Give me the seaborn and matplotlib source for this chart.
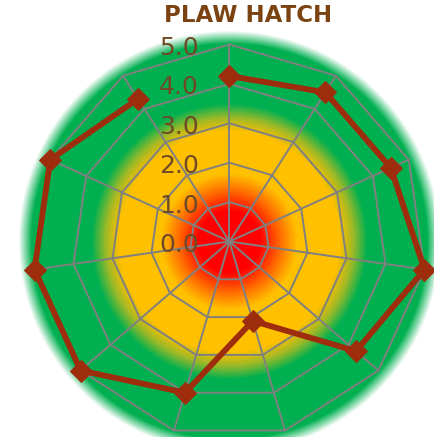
import numpy as np
import pandas as pd
import matplotlib
matplotlib.use("Agg")
import matplotlib.pyplot as plt
import seaborn as sns
from matplotlib.colors import LinearSegmentedColormap

# ---- data ----
categories = ["C1", "C2", "C3", "C4", "C5", "C6", "C7", "C8", "C9", "C10", "C11"]
values = [4.2, 4.5, 4.5, 5.0, 4.25, 2.1, 4.0, 5.0, 5.0, 5.0, 4.3]
levels = [0.0, 1.0, 2.0, 3.0, 4.0, 5.0]
title = "PLAW HATCH"

sns.set_style("white")
plt.rcParams['font.family'] = ['DejaVu Sans']

W, H, DPI = 435, 437, 100
fig = plt.figure(figsize=(W / DPI, H / DPI), dpi=DPI)

cx, cy, R = 229.5, 241.5, 197.0  # pixel geometry (from top-left)
rmax = 5.0

# ---- radial gradient background ----
bg = fig.add_axes([0, 0, 1, 1], zorder=0)
yy, xx = np.mgrid[0:H, 0:W] + 0.5
rr = np.hypot(xx - cx, yy - cy) / R * rmax
S = 5.35
cmap = LinearSegmentedColormap.from_list(
    "grad",
    [(0.0, "#FF0000"), (0.78 / S, "#FF0000"), (1.28 / S, "#FF6A00"),
     (1.72 / S, "#FFC000"), (2.8 / S, "#FFC000"), (3.15 / S, "#9CB928"),
     (3.5 / S, "#00B050"), (1.0, "#00B050")])
rgba = cmap(np.clip(rr / S, 0, 1))
alpha = np.clip((5.35 - rr) / 0.33, 0, 1)
rgba[..., 3] = alpha
bg.imshow(rgba, extent=[0, W, H, 0], interpolation="bilinear", aspect="auto")
bg.set_xlim(0, W)
bg.set_ylim(H, 0)
bg.axis("off")

# ---- polar axes ----
left = (cx - R) / W
bottom = (H - (cy + R)) / H
ax = fig.add_axes([left, bottom, 2 * R / W, 2 * R / H], projection="polar", zorder=1)
ax.patch.set_alpha(0)
ax.set_theta_zero_location("N")
ax.set_theta_direction(-1)
ax.set_ylim(0, rmax)
ax.grid(False)
ax.spines["polar"].set_visible(False)

n = len(categories)
angles = np.linspace(0, 2 * np.pi, n, endpoint=False)
ang_closed = np.append(angles, angles[0])

grid_col = "#808080"
for lv in levels[1:]:
    ax.plot(ang_closed, [lv] * (n + 1), color=grid_col, lw=1.4, zorder=2, clip_on=False)
for a in angles:
    ax.plot([a, a], [0, rmax], color=grid_col, lw=1.4, zorder=2, clip_on=False)

df = pd.DataFrame({"angle": ang_closed, "value": values + [values[0]]})
sns.lineplot(data=df, x="angle", y="value", sort=False, ax=ax, color="#9E2D0E",
             lw=4.2, marker="D", markersize=11, markeredgecolor="#9E2D0E",
             zorder=5, clip_on=False)
ax.set_xlabel("")
ax.set_ylabel("")
ax.set_xticks([])
ax.set_yticks([])
ax.set_ylim(0, rmax)

for lv in levels:
    ax.annotate(f"{lv:.1f}", xy=(0, lv), xytext=(-22, -2.5), textcoords="offset points",
                ha="right", va="center", fontsize=18, color="#6E4A26", zorder=6,
                annotation_clip=False)

fig.text(248 / W, 1 - 16 / H, title, ha="center", va="center", fontsize=16.5,
         fontweight="bold", color="#7A4311")

fig.savefig("out.png", dpi=DPI)
